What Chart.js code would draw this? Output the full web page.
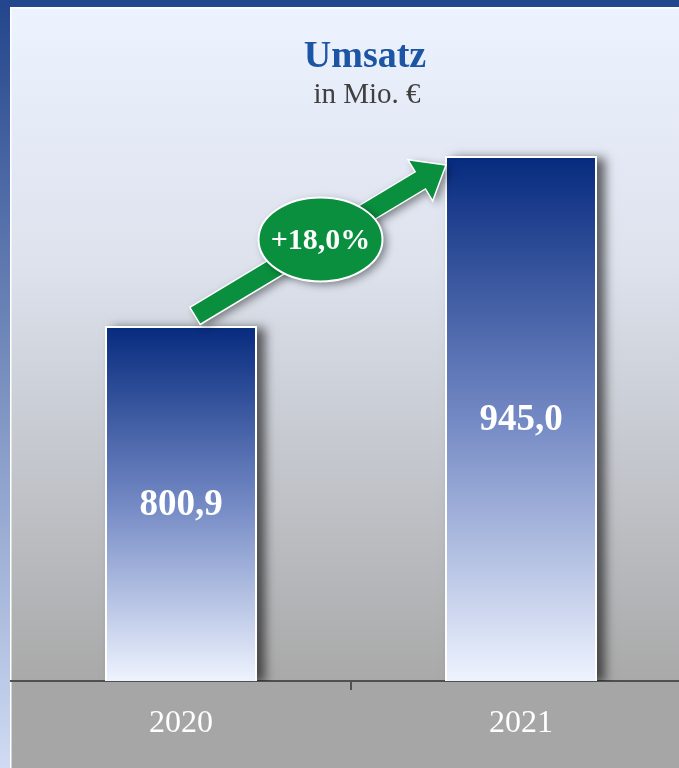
<!DOCTYPE html>
<html>
<head>
<meta charset="utf-8">
<script src="https://cdn.jsdelivr.net/npm/chart.js@4.4.1/dist/chart.umd.min.js"></script>
<style>
  html, body { margin: 0; padding: 0; overflow: hidden; background: #a6a6a6; }
  #umsatzChart { display: block; }
</style>
</head>
<body>
<canvas id="umsatzChart" width="691" height="768"></canvas>
<script>
// Daten
const years = ['2020', '2021'];
const umsatz = [800.9, 945.0];
const growthLabel = '+18,0%';
const titleText = 'Umsatz';
const subtitleText = 'in Mio. €';

const serif = '"Liberation Serif", "Times New Roman", serif';

// Hintergrund + Rahmen
const backgroundPlugin = {
  id: 'background',
  beforeDraw(chart) {
    const ctx = chart.ctx;
    const area = chart.chartArea;
    const w = chart.width, h = chart.height;
    ctx.save();
    const g = ctx.createLinearGradient(0, 8, 0, area.bottom);
    g.addColorStop(0, '#ecf2fe');
    g.addColorStop(0.38, '#dde2ed');
    g.addColorStop(0.68, '#c3c6cc');
    g.addColorStop(1, '#a9a9a9');
    ctx.fillStyle = g;
    ctx.fillRect(11, 8, w - 11, area.bottom - 8);
    ctx.fillStyle = '#a6a6a6';
    ctx.fillRect(11, area.bottom, w - 11, h - area.bottom);
    // blauer Rahmen
    const lg = ctx.createLinearGradient(0, 0, 0, h);
    lg.addColorStop(0, '#23458c');
    lg.addColorStop(1, '#d0dbf3');
    ctx.fillStyle = lg;
    ctx.fillRect(0, 0, 10, h);
    ctx.fillStyle = '#23478e';
    ctx.fillRect(0, 0, w, 7);
    ctx.fillStyle = '#ffffff';
    ctx.fillRect(10, 7, 1.5, h);
    ctx.fillRect(10, 7, w, 1.5);
    ctx.restore();
  }
};

// Schatten für Balken (separat, da Chart.js die Balken clippt)
const shadowPlugin = {
  id: 'barShadow',
  beforeDatasetsDraw(chart) {
    const ctx = chart.ctx;
    const bottom = chart.chartArea.bottom;
    ctx.save();
    ctx.beginPath();
    ctx.rect(chart.chartArea.left, 0, chart.chartArea.width, bottom);
    ctx.clip();
    ctx.shadowColor = 'rgba(0,0,0,0.6)';
    ctx.shadowBlur = 10;
    ctx.shadowOffsetX = 8;
    ctx.shadowOffsetY = 2;
    ctx.fillStyle = '#888888';
    chart.getDatasetMeta(0).data.forEach((bar) => {
      ctx.fillRect(bar.x - bar.width / 2, bar.y, bar.width, bottom - bar.y);
    });
    ctx.restore();
  }
};

// Titel, Werte, Pfeil
const overlayPlugin = {
  id: 'overlay',
  afterDatasetsDraw(chart) {
    const ctx = chart.ctx;
    const meta = chart.getDatasetMeta(0);
    const bottom = chart.chartArea.bottom;
    ctx.save();

    // Titel
    ctx.textAlign = 'center';
    ctx.textBaseline = 'alphabetic';
    ctx.fillStyle = '#1c55a3';
    ctx.font = 'bold 38px ' + serif;
    ctx.fillText(titleText, 365, 67);
    ctx.fillStyle = '#404040';
    ctx.font = '29px ' + serif;
    ctx.fillText(subtitleText, 367, 103);

    // Werte in den Balken
    ctx.fillStyle = '#ffffff';
    ctx.font = 'bold 37px ' + serif;
    ctx.textBaseline = 'middle';
    meta.data.forEach((bar, i) => {
      const txt = umsatz[i].toFixed(1).replace('.', ',');
      ctx.fillText(txt, bar.x, (bar.y + bottom) / 2 + 2);
    });

    // Pfeil
    const b1 = meta.data[0], b2 = meta.data[1];
    const tail = { x: b1.x + 14, y: b1.y - 10 };
    const tip = { x: b2.x - b2.width / 2 + 1, y: b2.y + 9 };
    const dx = tip.x - tail.x, dy = tip.y - tail.y;
    const len = Math.hypot(dx, dy);
    const ux = dx / len, uy = dy / len;
    const nx = -uy, ny = ux;
    const shaftW = 10, headW = 24, headL = 30;
    const bx = tip.x - ux * headL, by = tip.y - uy * headL;
    ctx.shadowColor = 'rgba(0,0,0,0.45)';
    ctx.shadowBlur = 8;
    ctx.shadowOffsetX = 4;
    ctx.shadowOffsetY = 3;
    ctx.beginPath();
    ctx.moveTo(tail.x + nx * shaftW, tail.y + ny * shaftW);
    ctx.lineTo(bx + nx * shaftW, by + ny * shaftW);
    ctx.lineTo(bx + nx * headW, by + ny * headW);
    ctx.lineTo(tip.x, tip.y);
    ctx.lineTo(bx - nx * headW, by - ny * headW);
    ctx.lineTo(bx - nx * shaftW, by - ny * shaftW);
    ctx.lineTo(tail.x - nx * shaftW, tail.y - ny * shaftW);
    ctx.closePath();
    ctx.fillStyle = '#0a8f3f';
    ctx.fill();
    ctx.shadowColor = 'transparent';
    ctx.strokeStyle = '#ffffff';
    ctx.lineWidth = 1.5;
    ctx.stroke();

    // Ellipse
    const cx = (tail.x + tip.x) / 2, cy = (tail.y + tip.y) / 2 - 1;
    ctx.shadowColor = 'rgba(0,0,0,0.45)';
    ctx.beginPath();
    ctx.ellipse(cx, cy, 62, 42, 0, 0, Math.PI * 2);
    ctx.fillStyle = '#0a8f3f';
    ctx.fill();
    ctx.shadowColor = 'transparent';
    ctx.strokeStyle = '#ffffff';
    ctx.lineWidth = 2;
    ctx.stroke();
    ctx.fillStyle = '#ffffff';
    ctx.font = 'bold 30px ' + serif;
    ctx.textBaseline = 'middle';
    ctx.fillText(growthLabel, cx, cy + 2);

    ctx.restore();
  }
};

const ctx = document.getElementById('umsatzChart').getContext('2d');
const umsatzChart = new Chart(ctx, {
  type: 'bar',
  data: {
    labels: years,
    datasets: [{
      data: umsatz,
      backgroundColor: (c) => {
        const chart = c.chart;
        const area = chart.chartArea;
        const yScale = chart.scales.y;
        if (!area || !yScale || c.raw === undefined) return '#4a64a6';
        const top = yScale.getPixelForValue(c.raw);
        const g = chart.ctx.createLinearGradient(0, top, 0, area.bottom);
        g.addColorStop(0, '#062a7e');
        g.addColorStop(0.5, '#7389c4');
        g.addColorStop(1, '#eef3fe');
        return g;
      },
      borderColor: '#ffffff',
      borderWidth: 2,
      categoryPercentage: 1,
      barPercentage: 0.447
    }]
  },
  options: {
    responsive: false,
    animation: false,
    layout: { padding: { left: 11, top: 91, right: 0, bottom: 0 } },
    plugins: {
      legend: { display: false },
      tooltip: { enabled: false }
    },
    scales: {
      y: {
        display: false,
        min: 500,
        max: 1000
      },
      x: {
        offset: true,
        afterFit: (scale) => { scale.height = 87; },
        border: { display: true, color: '#505050', width: 2 },
        grid: {
          offset: true,
          drawOnChartArea: false,
          drawTicks: true,
          tickLength: 9,
          lineWidth: 2,
          color: (c) => c.index === 1 ? '#505050' : 'rgba(0,0,0,0)'
        },
        ticks: {
          color: '#ffffff',
          padding: 14,
          font: { family: serif, size: 32 }
        }
      }
    }
  },
  plugins: [backgroundPlugin, shadowPlugin, overlayPlugin]
});
</script>
</body>
</html>
